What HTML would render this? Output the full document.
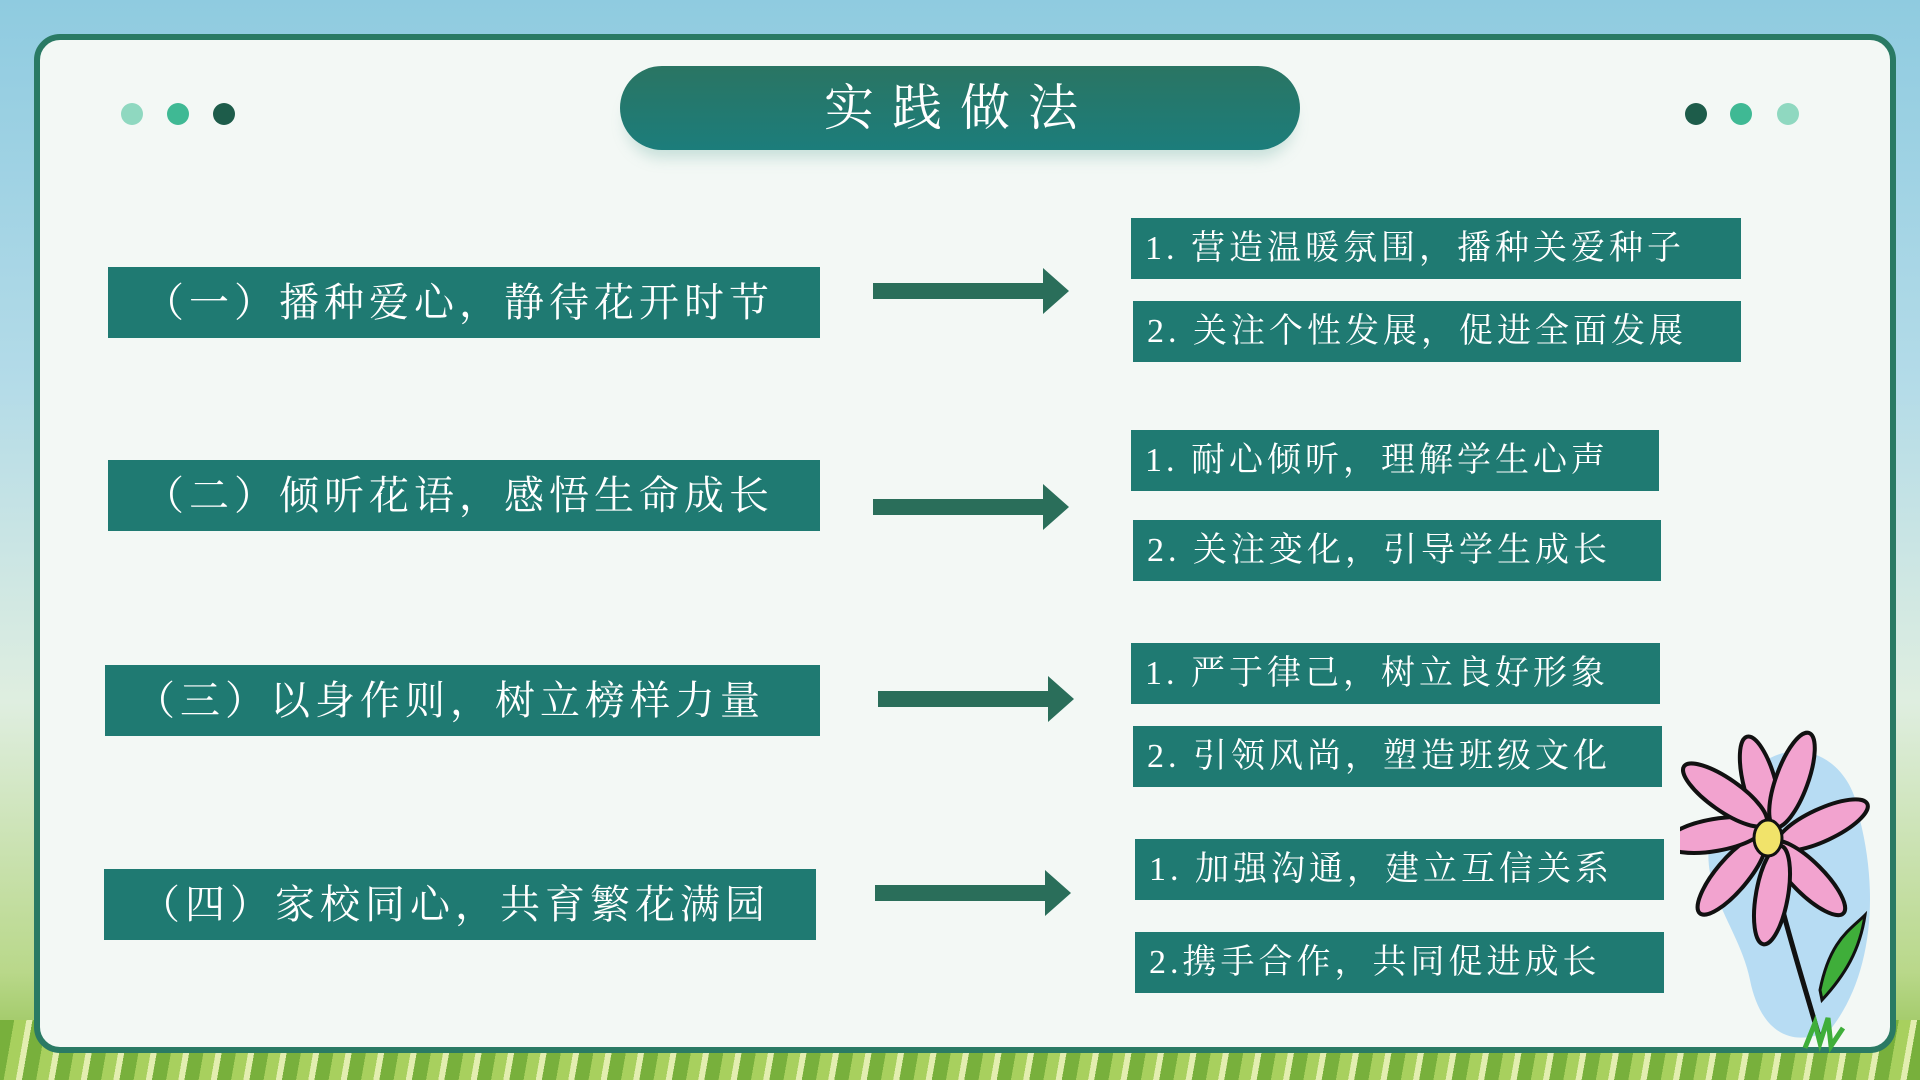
<!DOCTYPE html>
<html><head><meta charset="utf-8"><style>
*{margin:0;padding:0;box-sizing:border-box}
body{width:1920px;height:1080px;overflow:hidden;position:relative;background:linear-gradient(#8fcbe0 0,#b3dbe8 35%,#dfeee0 65%,#b9d88a 90%,#8dbd4a 100%);font-family:"Liberation Serif","Noto Serif CJK SC",serif}
.grass{position:absolute;left:0;right:0;bottom:0;height:60px;background:repeating-linear-gradient(100deg,#78b03c 0 14px,#a8d05e 14px 26px,#e3eeb0 26px 32px)}
.panel{position:absolute;left:34px;top:34px;width:1862px;height:1019px;border:6px solid #2a7a64;border-radius:26px;background:#f3f8f5}
.pill{position:absolute;left:620px;top:66px;width:680px;height:84px;border-radius:42px;background:linear-gradient(#2a7563,#1c7d7b);color:#fff;font-size:50px;text-align:center;line-height:84px;letter-spacing:18px;box-shadow:0 14px 14px -6px rgba(120,180,170,.35)}
.dot{position:absolute;width:22px;height:22px;border-radius:50%;top:103px}
.b{position:absolute;background:#1f7a72;color:#fff;white-space:nowrap}
.l{height:71px;line-height:71px;font-size:40px;padding-left:36px;letter-spacing:5px}
.r{height:61px;line-height:61px;font-size:34px;padding-left:14px;letter-spacing:4px}
.arr{position:absolute}
</style></head><body>
<div class="grass"></div>
<div class="panel"></div>
<div class="pill">实践做法</div>
<div class="dot" style="left:121px;background:#8fd8c0"></div>
<div class="dot" style="left:167px;background:#3fb994"></div>
<div class="dot" style="left:213px;background:#1d5c4a"></div>
<div class="dot" style="left:1685px;background:#1d5c4a"></div>
<div class="dot" style="left:1730px;background:#3fb994"></div>
<div class="dot" style="left:1777px;background:#8fd8c0"></div>

<div class="b l" style="left:108px;top:267px;width:712px">（一）播种爱心，静待花开时节</div>
<div class="b l" style="left:108px;top:460px;width:712px">（二）倾听花语，感悟生命成长</div>
<div class="b l" style="left:105px;top:665px;width:715px;padding-left:30px">（三）以身作则，树立榜样力量</div>
<div class="b l" style="left:104px;top:869px;width:712px">（四）家校同心，共育繁花满园</div>

<svg class="arr" style="left:873px;top:266px" width="200" height="52"><polygon points="0,17 170,17 170,2 196,25 170,48 170,33 0,33" fill="#2a6e5a"/></svg>
<svg class="arr" style="left:873px;top:482px" width="200" height="52"><polygon points="0,17 170,17 170,2 196,25 170,48 170,33 0,33" fill="#2a6e5a"/></svg>
<svg class="arr" style="left:878px;top:674px" width="200" height="52"><polygon points="0,17 170,17 170,2 196,25 170,48 170,33 0,33" fill="#2a6e5a"/></svg>
<svg class="arr" style="left:875px;top:868px" width="200" height="52"><polygon points="0,17 170,17 170,2 196,25 170,48 170,33 0,33" fill="#2a6e5a"/></svg>

<div class="b r" style="left:1131px;top:218px;width:610px">1. 营造温暖氛围，播种关爱种子</div>
<div class="b r" style="left:1133px;top:301px;width:608px">2. 关注个性发展，促进全面发展</div>
<div class="b r" style="left:1131px;top:430px;width:528px">1. 耐心倾听，理解学生心声</div>
<div class="b r" style="left:1133px;top:520px;width:528px">2. 关注变化，引导学生成长</div>
<div class="b r" style="left:1131px;top:643px;width:529px">1. 严于律己，树立良好形象</div>
<div class="b r" style="left:1133px;top:726px;width:529px">2. 引领风尚，塑造班级文化</div>
<div class="b r" style="left:1135px;top:839px;width:529px">1. 加强沟通，建立互信关系</div>
<div class="b r" style="left:1135px;top:932px;width:529px">2.携手合作，共同促进成长</div>

<svg style="position:absolute;left:1680px;top:730px" width="220" height="325">
<path d="M60,60 C90,0 170,10 180,90 C200,170 190,250 150,300 C110,320 80,300 70,250 C60,200 20,160 30,110 Z" fill="#b7dcf3"/>
<path d="M88,115 C100,180 120,240 140,310" stroke="#111" stroke-width="5" fill="none"/>
<path d="M140,260 C150,210 170,200 185,185 C180,220 165,245 142,270 Z" fill="#3fae3a" stroke="#111" stroke-width="3"/>
<g stroke="#111" stroke-width="4" fill="#f2a3cf">
<ellipse cx="80" cy="55" rx="16" ry="50" transform="rotate(-15 80 55)"/>
<ellipse cx="112" cy="50" rx="16" ry="50" transform="rotate(20 112 50)"/>
<ellipse cx="142" cy="95" rx="16" ry="50" transform="rotate(65 142 95)"/>
<ellipse cx="128" cy="148" rx="16" ry="50" transform="rotate(-45 128 148)"/>
<ellipse cx="92" cy="165" rx="16" ry="50" transform="rotate(10 92 165)"/>
<ellipse cx="52" cy="145" rx="16" ry="50" transform="rotate(40 52 145)"/>
<ellipse cx="35" cy="105" rx="16" ry="50" transform="rotate(80 35 105)"/>
<ellipse cx="45" cy="65" rx="16" ry="50" transform="rotate(-55 45 65)"/>
</g>
<ellipse cx="88" cy="108" rx="14" ry="18" fill="#f1e36a" stroke="#111" stroke-width="3"/>
<path d="M125,318 l10,-25 l5,20 l8,-25 l3,28 l12,-18" stroke="#3fae3a" stroke-width="5" fill="none"/>
</svg>
</body></html>
